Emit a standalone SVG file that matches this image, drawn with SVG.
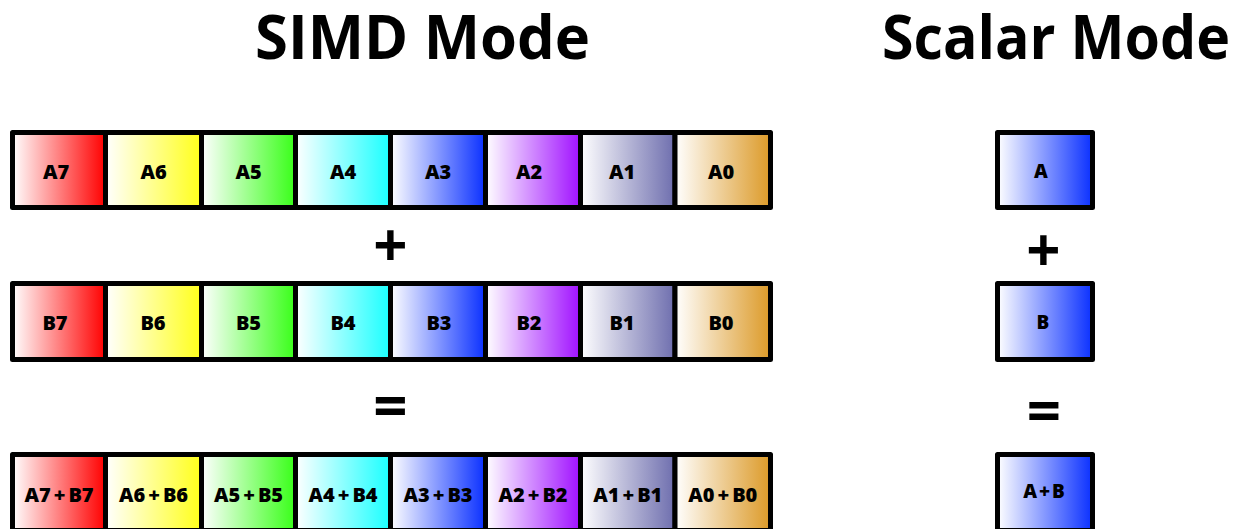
<svg xmlns="http://www.w3.org/2000/svg" width="1240" height="529" viewBox="0 0 1240 529">
<defs>
<linearGradient id="g7" x1="0" y1="0" x2="1" y2="0"><stop offset="0" stop-color="#ffffff"/><stop offset="1" stop-color="#ff0000"/></linearGradient>
<linearGradient id="g6" x1="0" y1="0" x2="1" y2="0"><stop offset="0" stop-color="#ffffff"/><stop offset="1" stop-color="#ffff1a"/></linearGradient>
<linearGradient id="g5" x1="0" y1="0" x2="1" y2="0"><stop offset="0" stop-color="#ffffff"/><stop offset="1" stop-color="#38ff18"/></linearGradient>
<linearGradient id="g4" x1="0" y1="0" x2="1" y2="0"><stop offset="0" stop-color="#ffffff"/><stop offset="1" stop-color="#1affff"/></linearGradient>
<linearGradient id="g3" x1="0" y1="0" x2="1" y2="0"><stop offset="0" stop-color="#ffffff"/><stop offset="1" stop-color="#0a30ff"/></linearGradient>
<linearGradient id="g2" x1="0" y1="0" x2="1" y2="0"><stop offset="0" stop-color="#ffffff"/><stop offset="1" stop-color="#a010ff"/></linearGradient>
<linearGradient id="g1" x1="0" y1="0" x2="1" y2="0"><stop offset="0" stop-color="#ffffff"/><stop offset="1" stop-color="#6e6eae"/></linearGradient>
<linearGradient id="g0" x1="0" y1="0" x2="1" y2="0"><stop offset="0" stop-color="#ffffff"/><stop offset="1" stop-color="#dc9a28"/></linearGradient>
</defs>
<style>
.cell{stroke:#000;stroke-width:5;stroke-linejoin:round}
.lbl{font-family:"Open Sans","Noto Sans",sans-serif;font-weight:800;font-size:20px;text-anchor:middle;fill:#000}
.slbl{font-family:"Open Sans","Noto Sans",sans-serif;font-weight:800;font-size:19px;text-anchor:middle;fill:#000}
.title{font-family:"Open Sans","Noto Sans",sans-serif;font-weight:700;font-size:60px;text-anchor:middle;fill:#000}
.op{font-family:"Open Sans","Noto Sans",sans-serif;font-weight:700;font-size:60px;text-anchor:middle;fill:#000}
</style>
<rect width="1240" height="529" fill="#ffffff"/>
<g id="titles">
<text class="title" x="422.5" y="59" textLength="335" lengthAdjust="spacingAndGlyphs">SIMD Mode</text>
<text class="title" x="1056" y="59" textLength="348" lengthAdjust="spacingAndGlyphs">Scalar Mode</text>
</g>
<g id="simd-a">
<rect class="cell" x="12.5" y="132.5" width="93" height="75" fill="url(#g7)"/>
<rect class="cell" x="105.5" y="132.5" width="96" height="75" fill="url(#g6)"/>
<rect class="cell" x="201.5" y="132.5" width="94" height="75" fill="url(#g5)"/>
<rect class="cell" x="295.5" y="132.5" width="95" height="75" fill="url(#g4)"/>
<rect class="cell" x="390.5" y="132.5" width="95" height="75" fill="url(#g3)"/>
<rect class="cell" x="485.5" y="132.5" width="95" height="75" fill="url(#g2)"/>
<rect class="cell" x="580.5" y="132.5" width="94.5" height="75" fill="url(#g1)"/>
<rect class="cell" x="675" y="132.5" width="95.5" height="75" fill="url(#g0)"/>
<text class="lbl" x="56" y="179">A7</text>
<text class="lbl" x="153.5" y="179">A6</text>
<text class="lbl" x="248.5" y="179">A5</text>
<text class="lbl" x="343" y="179">A4</text>
<text class="lbl" x="438" y="179">A3</text>
<text class="lbl" x="529" y="179">A2</text>
<text class="lbl" x="622" y="179">A1</text>
<text class="lbl" x="721" y="179">A0</text>
</g>
<g id="simd-b">
<rect class="cell" x="12.5" y="283.5" width="93" height="76" fill="url(#g7)"/>
<rect class="cell" x="105.5" y="283.5" width="96" height="76" fill="url(#g6)"/>
<rect class="cell" x="201.5" y="283.5" width="94" height="76" fill="url(#g5)"/>
<rect class="cell" x="295.5" y="283.5" width="95" height="76" fill="url(#g4)"/>
<rect class="cell" x="390.5" y="283.5" width="95" height="76" fill="url(#g3)"/>
<rect class="cell" x="485.5" y="283.5" width="95" height="76" fill="url(#g2)"/>
<rect class="cell" x="580.5" y="283.5" width="94.5" height="76" fill="url(#g1)"/>
<rect class="cell" x="675" y="283.5" width="95.5" height="76" fill="url(#g0)"/>
<text class="lbl" x="55" y="330">B7</text>
<text class="lbl" x="153" y="330">B6</text>
<text class="lbl" x="248.5" y="330">B5</text>
<text class="lbl" x="343" y="330">B4</text>
<text class="lbl" x="439" y="330">B3</text>
<text class="lbl" x="529" y="330">B2</text>
<text class="lbl" x="622" y="330">B1</text>
<text class="lbl" x="721" y="330">B0</text>
</g>
<g id="simd-sum">
<rect class="cell" x="12.5" y="454.5" width="93" height="76" fill="url(#g7)"/>
<rect class="cell" x="105.5" y="454.5" width="96" height="76" fill="url(#g6)"/>
<rect class="cell" x="201.5" y="454.5" width="94" height="76" fill="url(#g5)"/>
<rect class="cell" x="295.5" y="454.5" width="95" height="76" fill="url(#g4)"/>
<rect class="cell" x="390.5" y="454.5" width="95" height="76" fill="url(#g3)"/>
<rect class="cell" x="485.5" y="454.5" width="95" height="76" fill="url(#g2)"/>
<rect class="cell" x="580.5" y="454.5" width="94.5" height="76" fill="url(#g1)"/>
<rect class="cell" x="675" y="454.5" width="95.5" height="76" fill="url(#g0)"/>
<text class="lbl" x="59" y="501.5">A7<tspan dx="3">+</tspan><tspan dx="3">B7</tspan></text>
<text class="lbl" x="153.5" y="501.5">A6<tspan dx="3">+</tspan><tspan dx="3">B6</tspan></text>
<text class="lbl" x="248.5" y="501.5">A5<tspan dx="3">+</tspan><tspan dx="3">B5</tspan></text>
<text class="lbl" x="343" y="501.5">A4<tspan dx="3">+</tspan><tspan dx="3">B4</tspan></text>
<text class="lbl" x="438" y="501.5">A3<tspan dx="3">+</tspan><tspan dx="3">B3</tspan></text>
<text class="lbl" x="533" y="501.5">A2<tspan dx="3">+</tspan><tspan dx="3">B2</tspan></text>
<text class="lbl" x="627.75" y="501.5">A1<tspan dx="3">+</tspan><tspan dx="3">B1</tspan></text>
<text class="lbl" x="722.75" y="501.5">A0<tspan dx="3">+</tspan><tspan dx="3">B0</tspan></text>
</g>
<g id="simd-ops">
<text class="op" x="390.5" y="267">+</text>
<text class="op" x="390.5" y="427">=</text>
</g>
<g id="scalar-a">
<rect class="cell" x="997.5" y="132.5" width="95" height="75" fill="url(#g3)"/>
<text class="slbl" x="1041" y="177.5">A</text>
</g>
<g id="scalar-b">
<rect class="cell" x="997.5" y="283.5" width="95" height="76" fill="url(#g3)"/>
<text class="slbl" x="1043" y="329">B</text>
</g>
<g id="scalar-sum">
<rect class="cell" x="997.5" y="454.5" width="95" height="76" fill="url(#g3)"/>
<text class="slbl" x="1044" y="498">A<tspan dx="2">+</tspan><tspan dx="2">B</tspan></text>
</g>
<g id="scalar-ops">
<text class="op" x="1043.5" y="271.5">+</text>
<text class="op" x="1044" y="432">=</text>
</g>
<g id="connectors"/>
</svg>
